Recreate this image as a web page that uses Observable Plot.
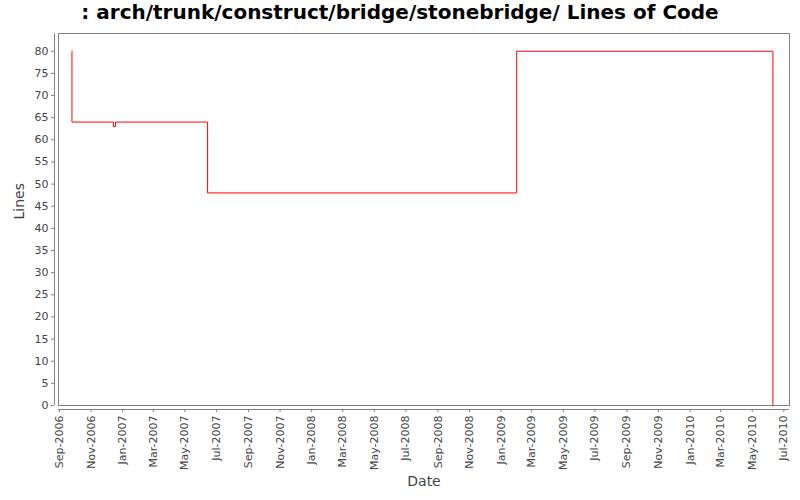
<!DOCTYPE html>
<html>
<head>
<meta charset="utf-8">
<script src="https://cdn.jsdelivr.net/npm/d3@7"></script>
<script src="https://cdn.jsdelivr.net/npm/@observablehq/plot@0.6"></script>
<style>
  html, body { margin: 0; padding: 0; background: #fff; }
  #title { height: 30px; line-height: 29px; text-align: center; font: bold 20px "DejaVu Sans", sans-serif; color: #000; white-space: nowrap; }
  #chart svg { display: block; }
</style>
</head>
<body>
<div id="title">: arch/trunk/construct/bridge/stonebridge/ Lines of Code</div>
<div id="chart"></div>
<script>
const dates = ["2006-09-25", "2006-09-25", "2006-12-14", "2006-12-18", "2007-06-14", "2009-01-31", "2010-06-10"];
const lines = [80, 64, 63, 64, 48, 80, 0];
const xTicks = ["2006-09-01","2006-11-01","2007-01-01","2007-03-01","2007-05-01","2007-07-01","2007-09-01","2007-11-01",
  "2008-01-01","2008-03-01","2008-05-01","2008-07-01","2008-09-01","2008-11-01","2009-01-01","2009-03-01","2009-05-01",
  "2009-07-01","2009-09-01","2009-11-01","2010-01-01","2010-03-01","2010-05-01","2010-07-01"];
const yTicks = [0,5,10,15,20,25,30,35,40,45,50,55,60,65,70,75,80];
const xDomain = ["2006-08-30", "2010-07-12"];
const yDomain = [0, 84];

const data = dates.map((d, i) => ({date: new Date(d + "T00:00:00Z"), value: lines[i]}));
const tickDates = xTicks.map(d => new Date(d + "T00:00:00Z"));
const x0 = new Date(xDomain[0] + "T00:00:00Z");
const x1 = new Date(xDomain[1] + "T00:00:00Z");
const fmt = d3.utcFormat("%b-%Y");

const chart = Plot.plot({
  width: 800,
  height: 470,
  marginTop: 3,
  marginLeft: 58,
  marginRight: 11,
  marginBottom: 95,
  style: {fontFamily: "'DejaVu Sans', sans-serif", fontSize: "11px", color: "#444", background: "#fff"},
  x: {type: "utc", domain: [x0, x1]},
  y: {domain: yDomain},
  marks: [
    Plot.frame({stroke: "#808080"}),
    Plot.ruleX([x0], {dx: -4, stroke: "#808080"}),
    Plot.ruleY([0], {dy: 4, stroke: "#808080"}),
    Plot.axisY({ticks: yTicks, tickSize: 3, dx: -4, tickPadding: 3, label: null, stroke: "#808080", fill: "#444", fontSize: 11}),
    Plot.axisX({ticks: tickDates, tickFormat: fmt, tickRotate: -90, tickSize: 3, dy: 4, tickPadding: 3, label: null, stroke: "#808080", fill: "#444", fontSize: 11}),
    Plot.line(data, {x: "date", y: "value", curve: "step-after", stroke: "#ff0000", strokeWidth: 1}),
    Plot.text(["Lines"], {frameAnchor: "left", rotate: -90, dx: -39, fontSize: 14, fill: "#444"}),
    Plot.text(["Date"], {frameAnchor: "bottom", dy: 80, fontSize: 14, fill: "#444"})
  ]
});
document.getElementById("chart").append(chart);
</script>
</body>
</html>
